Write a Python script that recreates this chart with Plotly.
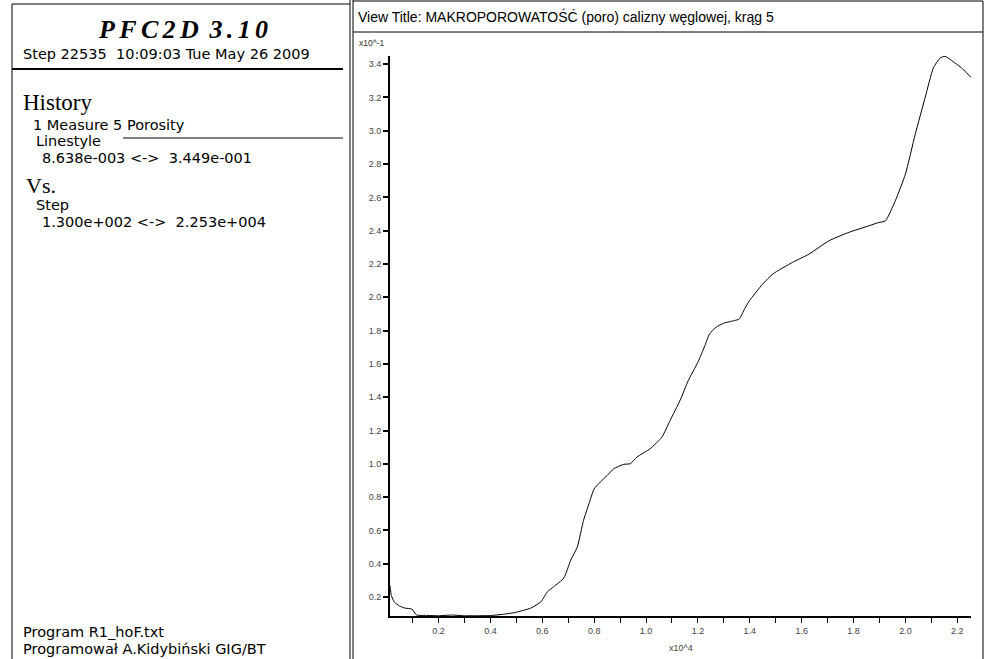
import plotly.graph_objects as go

# Data (x in units of 10^4 steps, y in units of 10^-1 porosity)
step_x10e4 = [0.013, 0.018, 0.03, 0.05, 0.07, 0.097, 0.116, 0.15, 0.2, 0.25, 0.3, 0.35, 0.4,
              0.441, 0.491, 0.556, 0.595, 0.620, 0.644, 0.683, 0.710, 0.735, 0.759, 0.78, 0.80,
              0.824, 0.85, 0.876, 0.914, 0.940, 0.965, 1.016, 1.061, 1.093, 1.131, 1.163, 1.2,
              1.227, 1.245, 1.27, 1.30, 1.34, 1.36, 1.38, 1.399, 1.450, 1.489, 1.565, 1.629,
              1.706, 1.782, 1.859, 1.897, 1.923, 1.961, 2.0, 2.038, 2.076, 2.108, 2.134, 2.153,
              2.191, 2.216, 2.235, 2.253]
porosity_x10em1 = [0.27, 0.21, 0.17, 0.146, 0.134, 0.128, 0.092, 0.09, 0.088, 0.092, 0.088, 0.088, 0.089,
                   0.095, 0.106, 0.134, 0.172, 0.232, 0.262, 0.314, 0.422, 0.50, 0.66, 0.76, 0.85,
                   0.891, 0.93, 0.971, 0.997, 1.001, 1.041, 1.091, 1.160, 1.261, 1.380, 1.500, 1.61,
                   1.71, 1.78, 1.82, 1.845, 1.86, 1.87, 1.93, 1.98, 2.08, 2.14, 2.21, 2.26,
                   2.34, 2.39, 2.429, 2.449, 2.459, 2.579, 2.739, 2.979, 3.198, 3.378, 3.437, 3.447,
                   3.407, 3.378, 3.35, 3.32]

x_range = [0.013, 2.253]
y_range = [0.08638, 3.449]
x_ticks = [0.2, 0.4, 0.6, 0.8, 1.0, 1.2, 1.4, 1.6, 1.8, 2.0, 2.2]
y_ticks = [0.2, 0.4, 0.6, 0.8, 1.0, 1.2, 1.4, 1.6, 1.8, 2.0, 2.2, 2.4, 2.6, 2.8, 3.0, 3.2, 3.4]

W, H = 985, 659
def px(x):
    return x / W
def py(y):
    return 1 - y / H

SANS = "Liberation Sans, Arial, sans-serif"
WIDE = "DejaVu Sans, Verdana, sans-serif"
SERIF = "Liberation Serif, Times New Roman, serif"

fig = go.Figure()
fig.add_trace(go.Scatter(x=step_x10e4, y=porosity_x10em1, mode="lines",
                         line=dict(color="black", width=1, shape="spline", smoothing=0.5),
                         showlegend=False, hoverinfo="skip"))

fig.update_layout(
    width=W, height=H,
    margin=dict(l=0, r=0, t=0, b=0),
    paper_bgcolor="white", plot_bgcolor="white",
    showlegend=False,
    xaxis=dict(domain=[px(390), px(971)], range=x_range, tickvals=x_ticks,
               tickformat=".1f", ticks="outside", ticklen=5, tickwidth=1, tickcolor="black",
               showline=True, linecolor="black", linewidth=2, showgrid=False, zeroline=False,
               tickfont=dict(family=SANS, size=9, color="#444"),
               minor=dict(dtick=0.1, tick0=0.0, ticks="outside", ticklen=5, tickcolor="black"),
               anchor="y"),
    yaxis=dict(domain=[py(616), py(56)], range=y_range, tickvals=y_ticks,
               tickformat=".1f", ticks="outside", ticklen=5, tickwidth=2, tickcolor="black",
               showline=True, linecolor="black", linewidth=2, showgrid=False, zeroline=False,
               tickfont=dict(family=SANS, size=9, color="#444"), anchor="x"),
)

shapes = []
def line(x0, y0, x1, y1, w=1):
    shapes.append(dict(type="line", xref="paper", yref="paper",
                       x0=px(x0), y0=py(y0), x1=px(x1), y1=py(y1),
                       line=dict(color="black", width=w)))

# left panel frame
line(12, 4, 350, 4)
line(12, 4, 12, 659)
line(350, 0, 350, 659)
line(353, 0, 353, 659)
# right panel frame
line(353, 1, 983, 1)
line(983, 1, 983, 659)
line(353, 32, 983, 32)
# separators in left panel
line(12, 69, 343, 69, 2)
line(123, 138, 343, 138)
fig.update_layout(shapes=shapes)

ann = []
def text(x, y, s, size, family=WIDE, anchor="left", color="black"):
    ann.append(dict(x=px(x), y=py(y), xref="paper", yref="paper", text=s, showarrow=False,
                    xanchor=anchor, yanchor="middle",
                    font=dict(family=family, size=size, color=color)))

sp = "\u2006"
text(183, 30, "<b><i>" + sp.join("PFC2D") + sp + " " + sp.join("3.10") + "</i></b>", 26, SERIF, anchor="center")
text(21, 54, "Step 22535&nbsp; 10:09:03 Tue May 26 2009", 14.5)
text(21, 102, "History", 23, SERIF)
text(31, 125, "1 Measure 5 Porosity", 14.5)
text(34, 141, "Linestyle", 14.5)
text(40, 158, "8.638e-003 &lt;-&gt;&nbsp; 3.449e-001", 14.5)
text(24, 185, "Vs.", 22, SERIF)
text(34, 205, "Step", 14.5)
text(40, 222, "1.300e+002 &lt;-&gt;&nbsp; 2.253e+004", 14.5)
text(21, 632, "Program R1_hoF.txt", 14.5)
text(21, 649, "Programował A.Kidybiński GIG/BT", 14.5)
text(356, 17, "View Title: MAKROPOROWATOŚĆ (poro) calizny węglowej, krąg 5", 14, SANS)
text(357, 43, "x10^-1", 8.5, SANS, color="#333")
text(681, 648, "x10^4", 9, SANS, anchor="center", color="#444")
fig.update_layout(annotations=ann)

fig.write_html("out.html", config={"displayModeBar": False},
               post_script="document.body.style.margin='0';")
